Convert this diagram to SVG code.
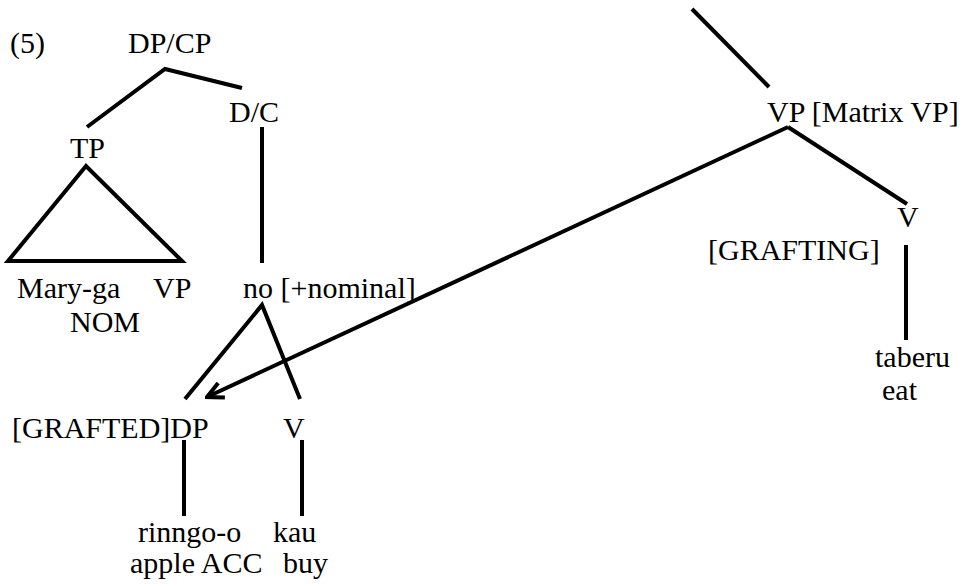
<svg xmlns="http://www.w3.org/2000/svg" width="967" height="588" viewBox="0 0 967 588">
<style>
.t{font-family:'Liberation Serif','Times New Roman',serif;font-size:30px;fill:#000}
.e{stroke:#000;stroke-width:4;fill:none;stroke-linecap:butt;stroke-linejoin:miter}
</style>
<defs>
<marker id="ah" viewBox="0 0 20 20" refX="18" refY="10" markerWidth="20" markerHeight="20" markerUnits="userSpaceOnUse" orient="auto">
<path d="M2,2 L18,10 L2,18" fill="none" stroke="#000" stroke-width="4"/>
</marker>
</defs>
<rect width="967" height="588" fill="#fff"/>
<g class="t">
<text x="10" y="53">(5)</text>
<g id="dpcp"><text x="128" y="53">DP/CP</text></g>
<g id="dc"><text x="229" y="122">D/C</text></g>
<g id="tp"><text x="70" y="158">TP</text></g>
<g id="maryga"><text x="17" y="298">Mary-ga</text><text x="70" y="332">NOM</text></g>
<g id="vp1"><text x="153" y="298">VP</text></g>
<g id="no"><text x="243" y="298">no [+nominal]</text></g>
<g id="grafted"><text x="12" y="438">[GRAFTED]DP</text></g>
<g id="v1"><text x="283" y="438">V</text></g>
<g id="rinngo"><text x="138" y="542">rinngo-o</text><text x="130" y="573">apple ACC</text></g>
<g id="kau"><text x="273" y="542">kau</text><text x="283" y="573">buy</text></g>
<g id="matrixvp"><text x="767" y="122">VP [Matrix VP]</text></g>
<g id="v2"><text x="897" y="227">V</text></g>
<g id="grafting"><text x="708" y="260">[GRAFTING]</text></g>
<g id="taberu"><text x="875" y="367">taberu</text><text x="882" y="400">eat</text></g>
</g>
<g id="connectors">
<polyline class="e" points="87,127 165,69 242,88"/>
<line class="e" x1="262" y1="127" x2="262" y2="263"/>
<polygon class="e" points="86,166 8,261 182,261"/>
<polyline class="e" points="185,399 262,305 300,399"/>
<line class="e" x1="184" y1="440" x2="184" y2="516"/>
<line class="e" x1="302" y1="440" x2="302" y2="516"/>
<line class="e" stroke-width="3.5" x1="692" y1="9" x2="769" y2="87"/>
<polyline class="e" points="907,204 788,127"/>
<line class="e" x1="788" y1="127" x2="207" y2="397" marker-end="url(#ah)"/>
<line class="e" x1="906" y1="245" x2="906" y2="340"/>
</g>
</svg>
